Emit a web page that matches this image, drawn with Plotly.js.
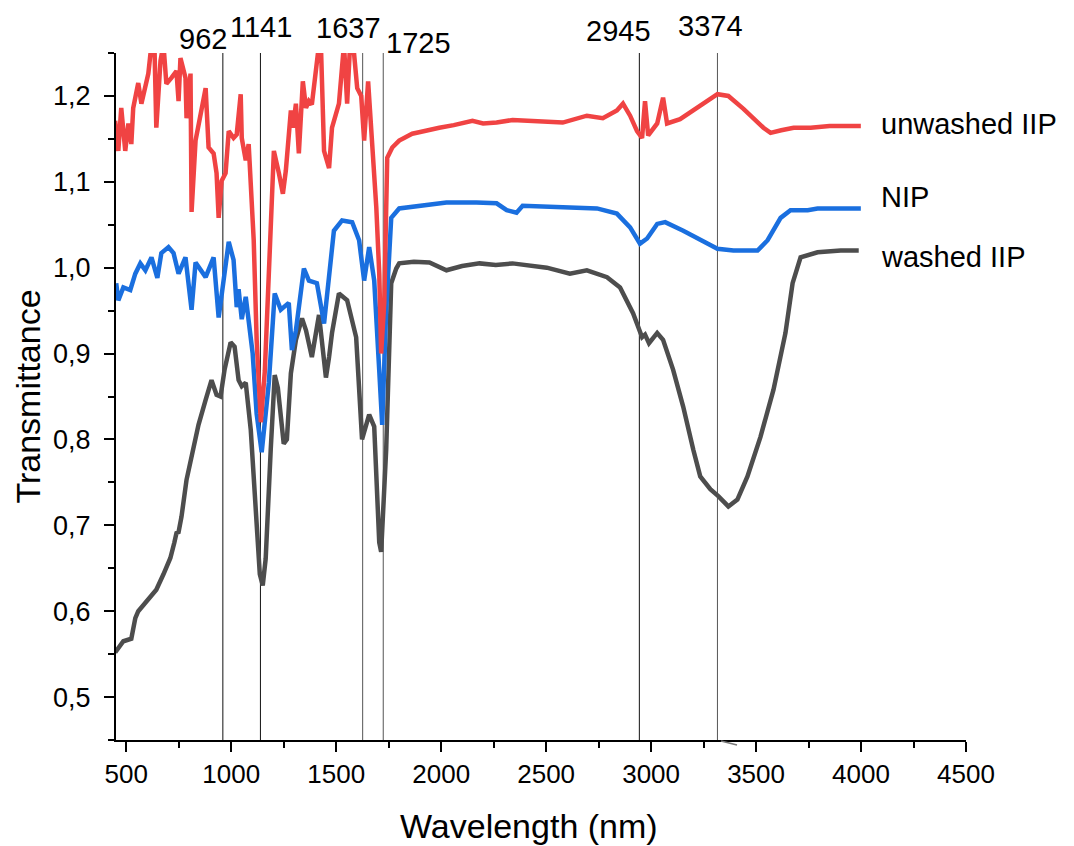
<!DOCTYPE html>
<html>
<head>
<meta charset="utf-8">
<script src="https://cdn.plot.ly/plotly-3.0.1.min.js"></script>
<style>html,body{margin:0;padding:0;background:#fff;}#chart{width:1074px;height:846px;}</style>
</head>
<body>
<div id="chart"></div>
<script>
// Wavelength (nm), transmittance pairs
const unwashedIIP = [[447,1.171],[462,1.136],[476,1.186],[495,1.136],[510,1.168],[524,1.144],[533,1.186],[557,1.215],[572,1.191],[591,1.214],[605,1.226],[620,1.26],[634,1.26],[643,1.163],[663,1.241],[677,1.26],[691,1.214],[715,1.221],[739,1.229],[749,1.194],[758,1.244],[782,1.221],[787,1.174],[806,1.226],[811,1.065],[830,1.148],[878,1.209],[892,1.140],[916,1.133],[930,1.110],[940,1.058],[954,1.101],[973,1.110],[988,1.159],[1011,1.151],[1026,1.155],[1045,1.202],[1050,1.151],[1069,1.125],[1083,1.144],[1107,1.032],[1121,0.916],[1141,0.820],[1160,0.880],[1179,0.990],[1203,1.136],[1227,1.110],[1246,1.086],[1260,1.113],[1284,1.183],[1294,1.163],[1308,1.191],[1322,1.133],[1341,1.217],[1356,1.186],[1370,1.194],[1384,1.190],[1408,1.241],[1418,1.26],[1427,1.26],[1442,1.136],[1466,1.116],[1480,1.163],[1513,1.191],[1537,1.26],[1552,1.191],[1566,1.26],[1581,1.26],[1600,1.209],[1619,1.200],[1633,1.148],[1652,1.217],[1671,1.148],[1691,1.070],[1705,0.993],[1714,0.900],[1729,0.960],[1743,1.128],[1767,1.140],[1800,1.148],[1830,1.152],[1862,1.156],[1900,1.158],[1950,1.161],[1991,1.163],[2060,1.166],[2149,1.171],[2200,1.168],[2264,1.169],[2340,1.172],[2422,1.171],[2500,1.170],[2579,1.169],[2694,1.177],[2770,1.174],[2837,1.183],[2866,1.191],[2900,1.177],[2933,1.159],[2957,1.151],[2971,1.194],[2986,1.154],[3029,1.168],[3057,1.198],[3076,1.168],[3138,1.173],[3220,1.186],[3316,1.202],[3368,1.200],[3440,1.185],[3535,1.163],[3569,1.157],[3620,1.160],[3679,1.163],[3760,1.163],[3850,1.165],[3999,1.165]];

const NIP = [[452,0.982],[462,0.962],[486,0.977],[519,0.974],[543,0.993],[567,1.005],[591,0.997],[620,1.012],[648,0.988],[667,1.017],[701,1.024],[725,1.017],[749,0.993],[782,1.012],[811,0.951],[830,1.006],[878,0.989],[916,1.012],[940,0.942],[964,0.985],[988,1.030],[1011,1.009],[1026,0.954],[1035,0.975],[1050,0.940],[1069,0.966],[1083,0.935],[1102,0.900],[1121,0.830],[1145,0.785],[1164,0.830],[1179,0.866],[1207,0.970],[1236,0.951],[1274,0.959],[1289,0.904],[1308,0.927],[1346,0.999],[1370,0.985],[1408,0.982],[1442,0.935],[1480,1.020],[1489,1.043],[1528,1.055],[1576,1.053],[1609,1.032],[1633,0.985],[1657,1.024],[1681,0.985],[1705,0.880],[1719,0.817],[1738,0.950],[1762,1.058],[1800,1.069],[1900,1.072],[2025,1.076],[2168,1.076],[2264,1.075],[2312,1.067],[2359,1.064],[2388,1.072],[2480,1.071],[2579,1.070],[2742,1.069],[2837,1.063],[2900,1.047],[2947,1.028],[2981,1.034],[3029,1.051],[3067,1.053],[3153,1.043],[3234,1.032],[3316,1.022],[3392,1.020],[3507,1.020],[3555,1.032],[3617,1.058],[3664,1.067],[3746,1.067],[3793,1.069],[3999,1.069]];

const washedIIP = [[447,0.552],[486,0.565],[524,0.568],[543,0.592],[557,0.600],[605,0.614],[643,0.625],[677,0.643],[710,0.662],[729,0.680],[739,0.691],[749,0.692],[763,0.710],[787,0.753],[820,0.788],[844,0.817],[878,0.846],[906,0.869],[930,0.852],[949,0.850],[968,0.881],[997,0.913],[1016,0.908],[1035,0.869],[1050,0.862],[1069,0.866],[1093,0.811],[1117,0.707],[1136,0.643],[1150,0.630],[1164,0.661],[1188,0.788],[1207,0.875],[1222,0.860],[1250,0.795],[1265,0.800],[1284,0.877],[1308,0.916],[1337,0.941],[1356,0.927],[1384,0.896],[1418,0.945],[1451,0.872],[1466,0.896],[1480,0.924],[1513,0.970],[1552,0.962],[1595,0.919],[1623,0.800],[1657,0.829],[1681,0.815],[1705,0.680],[1714,0.669],[1738,0.788],[1762,0.982],[1786,0.999],[1800,1.005],[1870,1.007],[1944,1.006],[2025,0.997],[2100,1.002],[2183,1.005],[2260,1.003],[2340,1.005],[2420,1.003],[2503,1.000],[2613,0.993],[2694,0.997],[2790,0.989],[2852,0.977],[2914,0.947],[2957,0.919],[2971,0.922],[2990,0.912],[3029,0.924],[3057,0.916],[3105,0.881],[3153,0.838],[3201,0.788],[3234,0.757],[3282,0.742],[3320,0.734],[3368,0.722],[3411,0.730],[3459,0.757],[3521,0.803],[3583,0.858],[3640,0.924],[3674,0.982],[3712,1.012],[3793,1.018],[3903,1.020],[3989,1.020]];

// Marked bands: line positions and their printed labels
const bandPositions = [960, 1139, 1626, 1724, 2944, 3316];
const bandLabels = ['962', '1141', '1637', '1725', '2945', '3374'];
const bandLabelX = [203, 261, 348, 418, 618, 710];   // label centres (px)
const bandLabelY = [39, 27, 28, 43, 31, 26];

const seriesNames = ['unwashed IIP', 'NIP', 'washed IIP'];
const seriesColors = ['#f04343', '#1a6fdf', '#4d4d4d'];
const seriesLabelY = [1.167, 1.082, 1.012];

const xTicks = [500, 1000, 1500, 2000, 2500, 3000, 3500, 4000, 4500];
const yTicks = [0.5, 0.6, 0.7, 0.8, 0.9, 1.0, 1.1, 1.2];
const yTickText = ['0,5', '0,6', '0,7', '0,8', '0,9', '1,0', '1,1', '1,2'];

const FONT = 'Liberation Sans, Arial, sans-serif';
const allSeries = [unwashedIIP, NIP, washedIIP];

const traces = [washedIIP, NIP, unwashedIIP].map((s) => {
  const i = allSeries.indexOf(s);
  return {
    x: s.map(p => p[0]), y: s.map(p => p[1]),
    type: 'scatter', mode: 'lines', name: seriesNames[i],
    line: {color: seriesColors[i], width: 4.5}, hoverinfo: 'skip'
  };
});

const W = 1074, H = 846, L = 116, R = 108, T = 53, B = 106;
const px2x = (px) => (px - L) / (W - L - R);
const px2y = (py) => 1 - (py - T) / (H - T - B);

const shapes = bandPositions.map((b, i) => ({
  type: 'line', xref: 'x', yref: 'paper', x0: b, x1: b, y0: 0, y1: 1,
  line: {color: (i === 2 || i === 3 || i === 5) ? '#555' : '#111', width: 1}, layer: 'below'
}));
shapes.push({type: 'line', xref: 'paper', yref: 'paper', x0: px2x(721), x1: px2x(737), y0: px2y(741), y1: px2y(745),
  line: {color: '#777', width: 1.5}});

const annotations = bandLabels.map((t, i) => ({
  text: t, xref: 'paper', yref: 'paper',
  x: px2x(bandLabelX[i]), y: px2y(bandLabelY[i]),
  xanchor: 'center', yanchor: 'middle', showarrow: false,
  font: {family: FONT, size: 29, color: '#000'}
}));
seriesNames.forEach((n, i) => annotations.push({
  text: n, xref: 'paper', yref: 'y', x: px2x(879), y: seriesLabelY[i],
  xanchor: 'left', yanchor: 'middle', showarrow: false,
  font: {family: FONT, size: 29, color: '#000'}
}));
annotations.push({
  text: 'Wavelength (nm)', xref: 'paper', yref: 'paper', x: px2x(529), y: px2y(826),
  xanchor: 'center', yanchor: 'middle', showarrow: false,
  font: {family: FONT, size: 34, color: '#000'}
});

const layout = {
  width: W, height: H,
  margin: {l: L, r: R, t: T, b: B},
  paper_bgcolor: '#fff', plot_bgcolor: '#fff',
  showlegend: false,
  font: {family: FONT, color: '#000'},
  xaxis: {
    range: [451, 4500], showgrid: false, zeroline: false,
    showline: true, linecolor: '#000', linewidth: 2, mirror: false,
    ticks: 'outside', ticklen: 10, tickwidth: 2, tickcolor: '#000',
    tickvals: xTicks, ticktext: xTicks.map(String),
    tickfont: {family: FONT, size: 26, color: '#000'},
    minor: {ticks: 'outside', ticklen: 6, tickwidth: 2, tickcolor: '#000', tick0: 250, dtick: 500}
  },
  yaxis: {
    range: [0.45, 1.25], showgrid: false, zeroline: false,
    showline: true, linecolor: '#000', linewidth: 2, mirror: false,
    ticks: 'outside', ticklen: 10, tickwidth: 2, tickcolor: '#000',
    tickvals: yTicks, ticktext: yTickText, ticklabelstandoff: 8,
    tickfont: {family: FONT, size: 27, color: '#000'},
    minor: {ticks: 'outside', ticklen: 6, tickwidth: 2, tickcolor: '#000', tick0: 0.45, dtick: 0.1},
    title: {text: 'Transmittance', font: {family: FONT, size: 34, color: '#000'}, standoff: 2}
  },
  shapes: shapes,
  annotations: annotations
};

Plotly.newPlot('chart', traces, layout, {displayModeBar: false, staticPlot: true});
</script>
</body>
</html>
